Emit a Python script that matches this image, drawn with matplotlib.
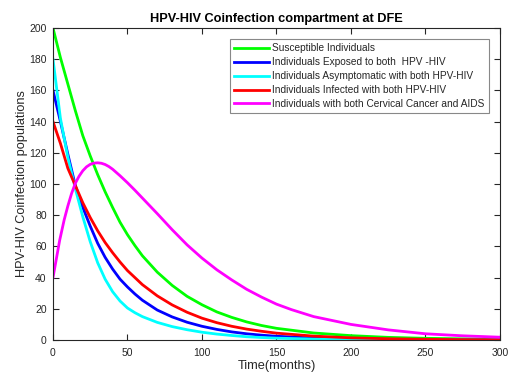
## HPV-HIV coinfection compartments at DFE

import numpy as np
import matplotlib.pyplot as plt

plt.rcParams['font.family'] = ['Liberation Sans', 'DejaVu Sans']

# time (months) for the decaying compartments
t = [0, 5, 10, 15, 20, 25, 30, 35, 40, 45, 50, 55, 60, 70, 80, 90, 100,
     110, 120, 130, 140, 150, 175, 200, 225, 250, 275, 300]

susceptible = [200, 181, 164, 147, 131, 118, 106, 95, 85, 75.5, 67.5, 60.5, 54,
               43.5, 35, 28, 22.6, 18, 14.5, 11.6, 9.3, 7.5, 4.5, 2.8, 1.7, 1.1, 0.75, 0.5]
exposed = [160, 140, 119, 99, 85, 73, 62, 53, 45.5, 39, 34, 29.5, 25.5,
           19.2, 14.8, 11.4, 8.8, 6.8, 5.2, 4.0, 3.1, 2.4, 1.3, 0.7, 0.4, 0.25, 0.15, 0.1]
asympt = [180, 142, 117, 97, 79, 63, 49.5, 39, 31, 25, 20.5, 17.5, 15,
          11.3, 8.6, 6.6, 5.0, 3.8, 2.9, 2.1, 1.6, 1.2, 0.6, 0.3, 0.15, 0.1, 0.07, 0.05]
infected = [140, 126, 110, 99, 88, 78.5, 70, 62.5, 56, 50, 44.5, 40, 35.5,
            28.3, 22.5, 17.8, 14, 11.1, 8.8, 7.0, 5.6, 4.4, 2.5, 1.4, 0.8, 0.45, 0.25, 0.15]

# cervical cancer + AIDS compartment (rises then decays)
t_ca = [0, 4.5, 7.5, 10, 12.5, 15, 17.5, 20, 22.5, 25, 27.5, 30, 32.5, 35, 37.5, 40,
        45, 50, 55, 60, 65, 70, 80, 90, 100, 110, 120, 130, 140, 150, 160, 175,
        200, 225, 250, 275, 300]
cancer_aids = [40, 64, 77, 86, 94, 100.5, 105, 108.5, 111, 112.6, 113.4, 113.6, 113.3,
               112.5, 111.2, 109.5, 105.3, 100.8, 96, 91, 86, 81, 70.7, 61, 52.5, 45,
               38.5, 32.5, 27.5, 23, 19.5, 15, 10, 6.5, 4, 2.7, 1.8]

labels = ['Susceptible Individuals',
          'Individuals Exposed to both  HPV -HIV',
          'Individuals Asymptomatic with both HPV-HIV',
          'Individuals Infected with both HPV-HIV',
          'Individuals with both Cervical Cancer and AIDS']

dark = '#262626'

fig = plt.figure(figsize=(5.12, 3.76), dpi=100)
ax = fig.add_axes([0.1035, 0.0957, 0.873, 0.8298])

ax.plot(t, susceptible, color=(0, 1, 0), lw=2, label=labels[0])
ax.plot(t, exposed, color=(0, 0, 1), lw=2, label=labels[1])
ax.plot(t, asympt, color=(0, 1, 1), lw=2, label=labels[2])
ax.plot(t, infected, color=(1, 0, 0), lw=2, label=labels[3])
ax.plot(t_ca, cancer_aids, color=(1, 0, 1), lw=2, label=labels[4])

ax.set_xlim(0, 300)
ax.set_ylim(0, 200)
ax.set_xticks(np.arange(0, 301, 50))
ax.set_yticks(np.arange(0, 201, 20))
ax.tick_params(direction='in', top=True, right=True, length=4, width=0.8,
               labelsize=7.5, colors=dark, pad=4.5)
ax.tick_params(axis='x', pad=5.5)
for s in ax.spines.values():
    s.set_color(dark)
    s.set_linewidth(0.8)

ax.set_title('HPV-HIV Coinfection compartment at DFE', fontsize=9.2,
             fontweight='bold', pad=4.5, color='black')
ax.set_xlabel('Time(months)', fontsize=9.2, color=dark, labelpad=2)
ax.set_ylabel('HPV-HIV Coinfection populations', fontsize=9.2, color=dark, labelpad=1)

leg = ax.legend(loc='upper right', bbox_to_anchor=(0.975, 0.965), borderaxespad=0,
                fontsize=7.3, fancybox=False, framealpha=1, edgecolor='#888888',
                handlelength=3.4, handletextpad=0.3, labelspacing=0.38, borderpad=0.45)
leg.get_frame().set_linewidth(0.8)
for txt in leg.get_texts():
    txt.set_color(dark)

plt.savefig('out.png', dpi=100)
